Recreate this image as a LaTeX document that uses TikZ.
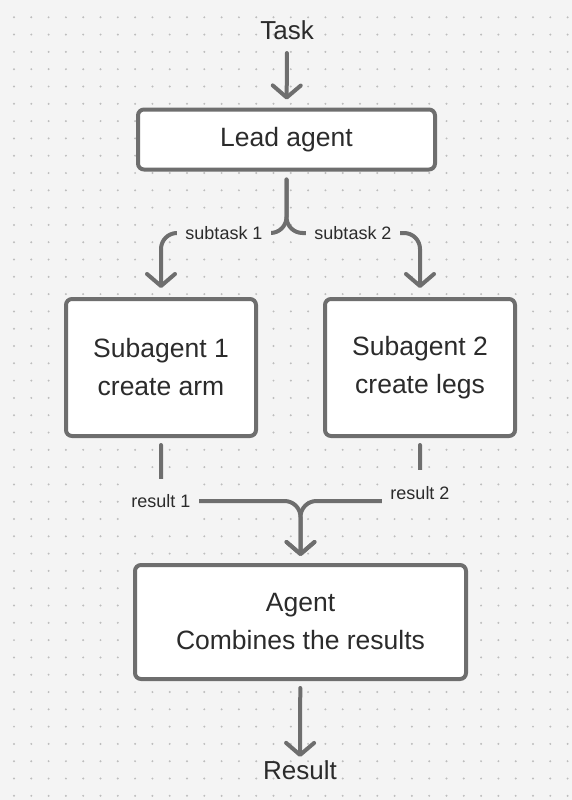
\documentclass[tikz,border=0pt]{standalone}
\usepackage{fontspec}
\setmainfont{Liberation Sans}
\usetikzlibrary{arrows.meta}
\definecolor{canvas}{HTML}{F4F4F4}
\definecolor{dotgray}{HTML}{BDBDBD}
\definecolor{edgegray}{HTML}{6E6E6E}
\definecolor{ink}{HTML}{2B2B2B}
\begin{document}
\begin{tikzpicture}[x=1pt,y=-1pt,
  box/.style={draw=edgegray,line width=4pt,fill=white,rounded corners=6pt,
    text=ink,align=center,font=\fontsize{26.5}{38}\selectfont},
  flow/.style={draw=edgegray,line width=4pt,line cap=round,rounded corners=16pt,
    -{Straight Barb[length=12pt,width=28pt,line cap=round,line join=round]}},
  lbl/.style={fill=canvas,text=ink,inner xsep=8pt,inner ysep=15pt,
    font=\fontsize{18}{20}\selectfont},
  big/.style={text=ink,font=\fontsize{26}{30}\selectfont}]
  \fill[canvas] (0,0) rectangle (572,800);
  \useasboundingbox (0,0) rectangle (572,800);
  \foreach \i in {0,...,32}
    \foreach \j in {1,...,46}
      \fill[dotgray] (14+17.3*\i,17.3*\j) circle (1.1pt);

  \node[big] (task) at (287,30) {Task};
  \node[box,minimum width=297pt,minimum height=60pt] (lead) at (286.5,139.5) {Lead agent};
  \node[box,minimum width=190pt,minimum height=137pt] (sub1) at (161,367.5) {Subagent 1\\create arm};
  \node[box,minimum width=190pt,minimum height=137pt] (sub2) at (420,367.5) {Subagent 2\\create legs};
  \node[box,minimum width=331pt,minimum height=114pt] (agent) at (300.5,622) {Agent\\Combines the results};
  \node[big] (result) at (300,770) {Result};

  \draw[flow,shorten <=10pt,shorten >=8pt] (task) -- (lead);
  \draw[flow,shorten <=8pt,shorten >=9pt] (lead.south) -- (286.5,233) -- (161,233) -- (sub1.north);
  \draw[flow,shorten <=8pt,shorten >=9pt] (lead.south) -- (286.5,233) -- (420,233) -- (sub2.north);
  \draw[flow,shorten <=7pt,shorten >=7pt] (sub1.south) -- (161,501) -- (300.5,501) -- (agent.north);
  \draw[flow,shorten <=7pt,shorten >=7pt] (sub2.south) -- (420,501) -- (300.5,501) -- (agent.north);
  \draw[flow,shorten <=7pt] (agent) -- (result);

  \node[lbl] (st1) at (224,233) {subtask 1};
  \node[lbl] (st2) at (353,233) {subtask 2};
  \node[lbl] (res1) at (161,501) {result 1};
  \node[lbl,inner ysep=16pt] (res2) at (420,493) {result 2};
\end{tikzpicture}
\end{document}
